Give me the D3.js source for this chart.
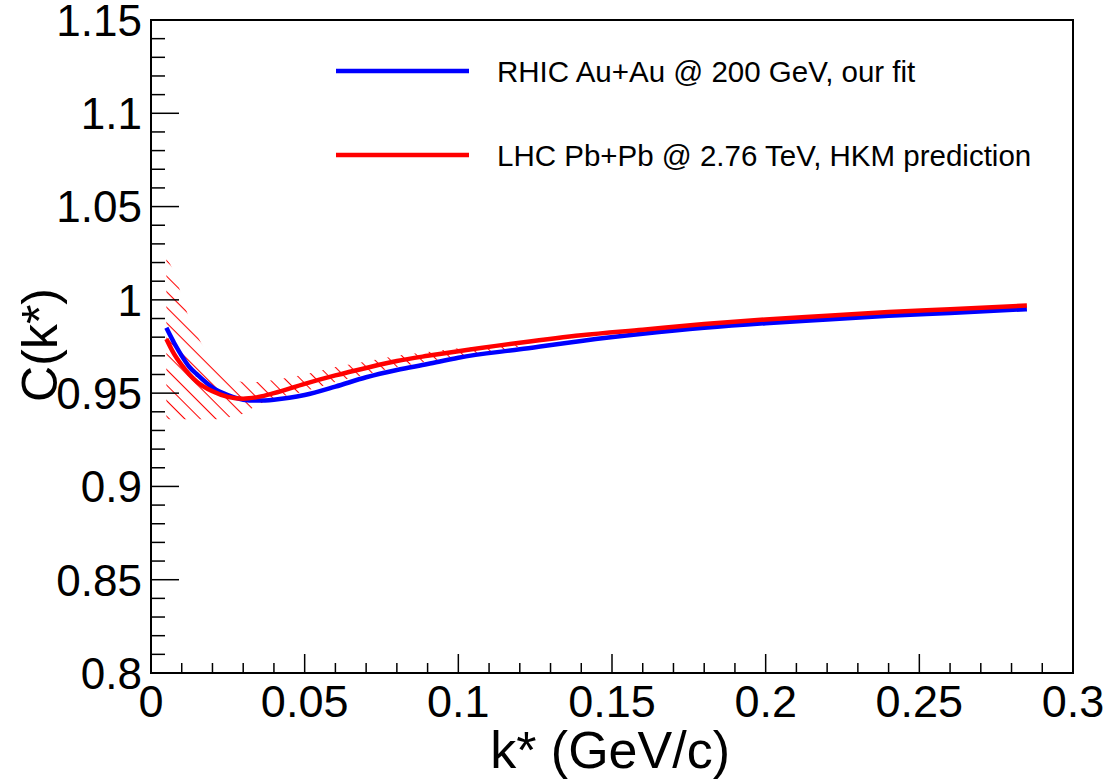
<!DOCTYPE html>
<html>
<head>
<meta charset="utf-8">
<script src="https://cdn.jsdelivr.net/npm/d3@7"></script>
<style>
  html, body { margin: 0; padding: 0; background: #fff; }
  svg { display: block; font-family: "Liberation Sans", Arial, sans-serif; }
</style>
</head>
<body>
<svg id="chart" width="1111" height="780"></svg>
<script>
// ---- data ----
const seriesNames = ["RHIC Au+Au @ 200 GeV, our fit", "LHC Pb+Pb @ 2.76 TeV, HKM prediction"];
const seriesColors = ["#0000ff", "#ff0000"];

const blueK = [0.005, 0.0075, 0.01, 0.0125, 0.015, 0.02, 0.025, 0.03, 0.035, 0.04, 0.045, 0.05, 0.06, 0.07, 0.08, 0.09, 0.1, 0.12, 0.14, 0.16, 0.18, 0.2, 0.22, 0.24, 0.26, 0.285];
const blueC = [0.985, 0.977, 0.970, 0.964, 0.960, 0.953, 0.949, 0.9465, 0.946, 0.9465, 0.9475, 0.949, 0.9535, 0.9585, 0.9624, 0.9656, 0.9690, 0.9735, 0.978, 0.9818, 0.985, 0.9875, 0.9895, 0.9915, 0.993, 0.995];

const redK = [0.005, 0.0075, 0.01, 0.0125, 0.015, 0.02, 0.025, 0.03, 0.035, 0.04, 0.05, 0.06, 0.07, 0.08, 0.09, 0.1, 0.12, 0.14, 0.16, 0.18, 0.2, 0.22, 0.24, 0.26, 0.285];
const redC = [0.979, 0.971, 0.965, 0.960, 0.956, 0.951, 0.948, 0.947, 0.948, 0.950, 0.955, 0.9595, 0.9635, 0.9672, 0.970, 0.9725, 0.977, 0.981, 0.984, 0.987, 0.9895, 0.9915, 0.9935, 0.995, 0.997];

const bandK = [0.005, 0.0075, 0.01, 0.0125, 0.015, 0.02, 0.025, 0.03, 0.035, 0.04, 0.05, 0.06, 0.07, 0.08, 0.09, 0.1, 0.11, 0.12];
const bandUpper = [1.022, 1.015, 1.002, 0.990, 0.981, 0.968, 0.960, 0.956, 0.956, 0.957, 0.960, 0.964, 0.967, 0.970, 0.972, 0.974, 0.975, 0.976];
const bandLower = [0.936, 0.936, 0.936, 0.936, 0.936, 0.936, 0.937, 0.939, 0.944, 0.947, 0.951, 0.956, 0.960, 0.964, 0.967, 0.970, 0.972, 0.975];

const xTickValues = [0, 0.05, 0.1, 0.15, 0.2, 0.25, 0.3];
const xTickLabels = ["0", "0.05", "0.1", "0.15", "0.2", "0.25", "0.3"];
const yTickValues = [0.8, 0.85, 0.9, 0.95, 1.0, 1.05, 1.1, 1.15];
const yTickLabels = ["0.8", "0.85", "0.9", "0.95", "1", "1.05", "1.1", "1.15"];
const xTitle = "k* (GeV/c)";
const yTitle = "C(k*)";

// ---- layout ----
const svg = d3.select("#chart");
const L = 151, R = 1073, T = 20, B = 673;
const x = d3.scaleLinear().domain([0, 0.3]).range([L, R]);
const y = d3.scaleLinear().domain([0.8, 1.15]).range([B, T]);

// hatch pattern
const defs = svg.append("defs");
const pat = defs.append("pattern")
  .attr("id", "hatch")
  .attr("patternUnits", "userSpaceOnUse")
  .attr("width", 11).attr("height", 11)
  .attr("patternTransform", "rotate(45)");
pat.append("line")
  .attr("x1", 0).attr("y1", 0.5).attr("x2", 11).attr("y2", 0.5)
  .attr("stroke", "#ff0000").attr("stroke-width", 1.1);

// band
const bandData = bandK.map((k, i) => ({k, u: bandUpper[i], l: bandLower[i]}));
svg.append("path")
  .datum(bandData)
  .attr("fill", "url(#hatch)")
  .attr("stroke", "none")
  .attr("d", d3.area().x(d => x(d.k)).y0(d => y(d.l)).y1(d => y(d.u)).curve(d3.curveMonotoneX));

// curves
const line = d3.line().x(d => x(d[0])).y(d => y(d[1])).curve(d3.curveMonotoneX);
svg.append("path")
  .datum(blueK.map((k, i) => [k, blueC[i]]))
  .attr("fill", "none").attr("stroke", seriesColors[0]).attr("stroke-width", 4.5)
  .attr("d", line);
svg.append("path")
  .datum(redK.map((k, i) => [k, redC[i]]))
  .attr("fill", "none").attr("stroke", seriesColors[1]).attr("stroke-width", 4.5)
  .attr("d", line);

// frame
svg.append("rect")
  .attr("x", L).attr("y", T).attr("width", R - L).attr("height", B - T)
  .attr("fill", "none").attr("stroke", "#000").attr("stroke-width", 2);

// x axis ticks (inside)
const xMinor = d3.range(0, 31).map(i => i * 0.01);
const xg = svg.append("g").attr("stroke", "#000").attr("stroke-width", 1.5);
xMinor.forEach((v, i) => {
  const major = i % 5 === 0;
  xg.append("line").attr("x1", x(v)).attr("x2", x(v))
    .attr("y1", B).attr("y2", B - (major ? 19 : 10));
});
svg.append("g").selectAll("text").data(xTickValues).join("text")
  .attr("x", d => x(d)).attr("y", 717)
  .attr("text-anchor", "middle")
  .attr("font-size", 45)
  .text((d, i) => xTickLabels[i]);

// y axis ticks (inside)
const yMinor = d3.range(0, 36).map(i => 0.8 + i * 0.01);
const yg = svg.append("g").attr("stroke", "#000").attr("stroke-width", 1.5);
yMinor.forEach((v, i) => {
  const major = i % 5 === 0;
  yg.append("line").attr("x1", L).attr("x2", L + (major ? 28 : 14))
    .attr("y1", y(v)).attr("y2", y(v));
});
svg.append("g").selectAll("text").data(yTickValues).join("text")
  .attr("x", 142).attr("y", d => y(d))
  .attr("dy", "0.36em")
  .attr("text-anchor", "end")
  .attr("font-size", 44)
  .text((d, i) => yTickLabels[i]);

// axis titles
svg.append("text")
  .attr("x", 730).attr("y", 768)
  .attr("text-anchor", "end")
  .attr("font-size", 52)
  .text(xTitle);
svg.append("text")
  .attr("transform", "translate(57,288) rotate(-90)")
  .attr("text-anchor", "end")
  .attr("font-size", 50)
  .text(yTitle);

// legend
const legY = [71, 155];
legY.forEach((ly, i) => {
  svg.append("line")
    .attr("x1", 336).attr("x2", 469).attr("y1", ly).attr("y2", ly)
    .attr("stroke", seriesColors[i]).attr("stroke-width", 4.5);
  svg.append("text")
    .attr("x", 497).attr("y", ly).attr("dy", "0.36em")
    .attr("font-size", 29.5)
    .text(seriesNames[i]);
});
</script>
</body>
</html>
